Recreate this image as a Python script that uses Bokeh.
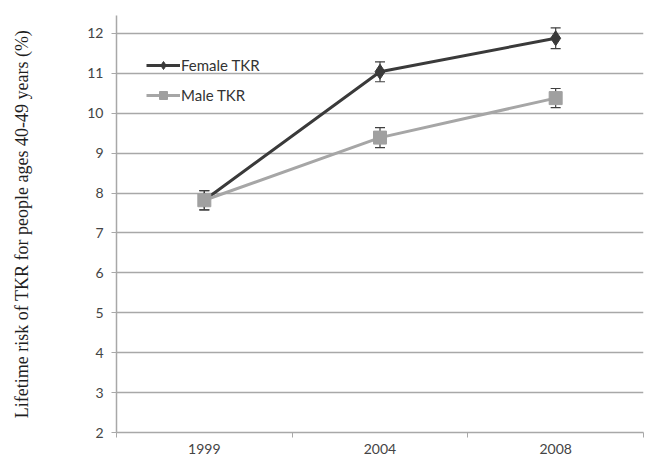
from bokeh.plotting import figure
from bokeh.models import Range1d, FixedTicker, Whisker, ColumnDataSource, Legend, LegendItem, TeeHead
from bokeh.embed import file_html
from bokeh.resources import INLINE

# ---- data ----
years = ["1999", "2004", "2008"]
female = [7.82, 11.04, 11.88]
female_err = [0.24, 0.25, 0.26]
male = [7.82, 9.39, 10.38]
male_err = [0.24, 0.25, 0.24]
y_ticks = list(range(2, 13))

# category centres / boundaries on a numeric scale (Excel-style category axis)
centers = [i + 0.5 for i in range(len(years))]
bounds = [i for i in range(len(years) + 1)]

src_f = ColumnDataSource(dict(x=centers, y=female,
                              lo=[v - e for v, e in zip(female, female_err)],
                              hi=[v + e for v, e in zip(female, female_err)]))
src_m = ColumnDataSource(dict(x=centers, y=male,
                              lo=[v - e for v, e in zip(male, male_err)],
                              hi=[v + e for v, e in zip(male, male_err)]))

p = figure(width=646, height=457, output_backend="svg", toolbar_location=None,
           x_range=Range1d(0, len(years)),
           y_range=Range1d(2, 12.45),
           min_border_left=116, min_border_right=3, min_border_top=15, min_border_bottom=25)
p.outline_line_color = None
p.background_fill_color = "white"
p.border_fill_color = "white"

GRID = "#a8a8a8"

# y axis
p.yaxis.ticker = FixedTicker(ticks=y_ticks)
p.yaxis.major_tick_out = 5
p.yaxis.major_tick_in = 0
p.yaxis.minor_tick_line_color = None
p.yaxis.major_tick_line_color = GRID
p.yaxis.axis_line_color = GRID
p.yaxis.axis_line_width = 1.5
p.yaxis.major_label_text_font = "Lato"
p.yaxis.major_label_text_font_size = "14px"
p.yaxis.major_label_text_color = "#444444"
p.yaxis.major_label_standoff = 8
p.yaxis.axis_label = "Lifetime risk of TKR for people ages 40-49 years (%)"
p.yaxis.axis_label_text_font = "Liberation Serif"
p.yaxis.axis_label_text_font_style = "normal"
p.yaxis.axis_label_text_font_size = "18px"
p.yaxis.axis_label_text_color = "#1e1e1e"
p.yaxis.axis_label_standoff = 52

# x axis
p.xaxis.ticker = FixedTicker(ticks=centers, minor_ticks=bounds)
p.xaxis.major_label_overrides = {c: y for c, y in zip(centers, years)}
p.xaxis.major_tick_line_color = None
p.xaxis.major_tick_out = 0
p.xaxis.major_tick_in = 0
p.xaxis.minor_tick_line_color = GRID
p.xaxis.minor_tick_out = 5
p.xaxis.minor_tick_in = 0
p.xaxis.axis_line_color = GRID
p.xaxis.axis_line_width = 1.5
p.xaxis.major_label_text_font = "Lato"
p.xaxis.major_label_text_font_size = "14px"
p.xaxis.major_label_text_color = "#444444"
p.xaxis.major_label_standoff = 6

p.xgrid.grid_line_color = None
p.ygrid.ticker = FixedTicker(ticks=y_ticks)
p.ygrid.grid_line_color = GRID
p.ygrid.grid_line_width = 1.5

# series
fl = p.line("x", "y", source=src_f, line_color="#3a3a3a", line_width=3)
fm = p.scatter("x", "y", source=src_f, marker="diamond", size=15, fill_color="#3a3a3a", line_color="#3a3a3a")
ml = p.line("x", "y", source=src_m, line_color="#a6a6a6", line_width=3)
mm = p.scatter("x", "y", source=src_m, marker="square", size=13, fill_color="#a0a0a0", line_color="#a0a0a0")

for src in (src_f, src_m):
    w = Whisker(source=src, base="x", lower="lo", upper="hi", line_color="#404040", line_width=1.2,
                upper_head=TeeHead(size=10, line_color="#404040", line_width=1.2),
                lower_head=TeeHead(size=10, line_color="#404040", line_width=1.2))
    p.add_layout(w)

legend = Legend(items=[LegendItem(label="Female TKR", renderers=[fl, fm]),
                       LegendItem(label="Male TKR", renderers=[ml, mm])],
                location=(30, 327), orientation="vertical")
legend.border_line_color = None
legend.background_fill_alpha = 0
legend.padding = 0
legend.margin = 0
legend.spacing = 10
legend.glyph_width = 34
legend.glyph_height = 20
legend.label_standoff = 1
legend.label_text_font = "Lato"
legend.label_text_font_size = "15px"
legend.label_text_color = "#333333"
p.add_layout(legend)

open("out.html", "w").write(file_html(p, INLINE))
